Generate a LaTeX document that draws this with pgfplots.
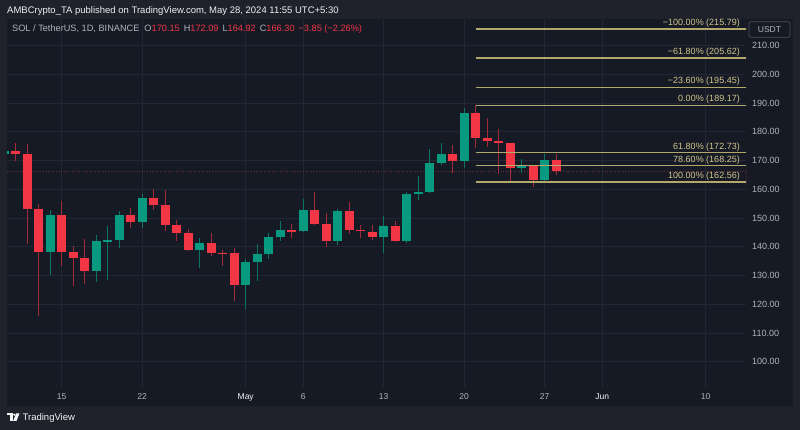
\documentclass[border=0pt]{standalone}
\usepackage{pgfplots}
\pgfplotsset{compat=1.18}
\usepackage{pgfplotstable}
\usepackage{fontspec}
\setmainfont{Liberation Sans}

\definecolor{frame}{HTML}{1F222B}
\definecolor{pane}{HTML}{161A25}
\definecolor{gridc}{HTML}{232733}
\definecolor{txt}{HTML}{B2B5BE}
\definecolor{up}{HTML}{089981}
\definecolor{down}{HTML}{F23645}
\definecolor{upwick}{HTML}{0B7564}
\definecolor{downwick}{HTML}{A02B3B}
\definecolor{fib}{HTML}{B3A86C}
\definecolor{fibtxt}{HTML}{D2C78E}
\definecolor{lastline}{HTML}{7A2834}

% day number counted from 1 April 2024: open high low close
\pgfplotstableread{
d  o      h      l      c
10 172.4  173.6  172.0  173.2
14 138.3  152.8  130.3  151.0
18 131.7  144.1  127.6  141.9
19 141.9  147.2  128.4  142.3
20 142.3  152.4  139.7  151.0
22 148.5  158.3  146.6  156.9
27 139.0  142.9  132.7  141.2
31 126.6  135.7  118.3  134.6
32 134.6  140.9  128.2  137.5
33 137.5  144.9  135.7  143.5
34 143.5  149.0  142.1  145.8
36 145.5  156.6  145.2  152.7
39 142.0  153.1  140.6  152.4
43 143.3  150.6  137.7  147.3
45 141.9  158.9  141.2  158.3
46 158.3  164.6  156.3  159.0
47 159.1  173.9  158.8  169.2
48 169.2  176.0  168.4  172.2
50 169.7  188.2  167.3  186.4
55 167.5  170.5  165.8  168.1
57 163.2  172.2  163.0  170.0
}\upcandles

\pgfplotstableread{
d  o      h      l      c
11 173.2  176.2  170.0  172.3
12 172.2  175.7  141.0  153.1
13 153.1  154.9  115.9  138.3
15 151.0  156.0  133.4  138.3
16 138.3  140.4  126.5  136.0
17 136.0  142.7  126.9  131.7
21 151.0  153.4  146.6  148.5
23 156.9  160.0  152.8  154.5
24 154.5  159.7  145.5  147.6
25 147.6  149.3  142.0  144.7
26 144.7  146.1  138.6  139.0
28 141.2  144.7  136.9  137.7
29 137.9  138.8  133.3  137.6
30 137.7  139.7  121.1  126.6
35 145.8  147.8  143.2  145.5
37 152.7  159.0  147.6  147.8
38 147.8  151.8  140.0  142.0
40 152.4  155.7  144.4  145.9
41 145.9  147.5  143.2  145.6
42 145.2  147.5  142.3  143.3
44 147.3  149.1  141.6  141.9
49 172.2  175.4  165.8  169.7
51 186.4  189.17 174.2  177.9
52 177.9  184.7  174.8  176.8
53 176.8  180.9  165.2  176.0
54 176.0  176.0  162.56 167.5
56 168.1  168.3  160.9  163.2
58 170.15 172.09 164.92 166.30
}\downcandles

\pgfplotsset{
  wick/.style={draw=none, mark=none, forget plot,
    error bars/.cd, y dir=both, y explicit, error mark=none,
    error bar style={solid, line width=1pt, draw=#1}},
  body/.style={draw=none, mark=none, forget plot,
    error bars/.cd, y dir=both, y explicit, error mark=none,
    error bar style={solid, line width=9pt, draw=#1}},
  fibline/.style={fib, line width=1.4pt, forget plot},
}

\begin{document}
\begin{tikzpicture}[x=1pt,y=1pt]
\path[use as bounding box] (0,0) rectangle (800,430);
\fill[frame] (0,0) rectangle (800,430);
\fill[pane] (7,24) rectangle (793,411);

\begin{axis}[
  at={(7pt,43pt)}, anchor=south west,
  scale only axis, width=739pt, height=368pt,
  xmin=10.243, xmax=74.504, ymin=91.22, ymax=219.22,
  axis line style={draw=none}, tick style={draw=none},
  grid=major, major grid style={gridc, line width=0.7pt},
  xtick={15,22,31,36,43,50,57,62,71},
  xticklabels={15,22,\textcolor{white!85!txt}{May},6,13,20,27,\textcolor{white!85!txt}{Jun},10},
  xticklabel style={inner sep=0pt, yshift=-6pt, font=\fontsize{8.5}{10}\selectfont, text=txt},
  ytick={100,110,...,210},
  yticklabel pos=right,
  yticklabel style={inner sep=0pt, xshift=6pt, anchor=west,
    font=\fontsize{9}{10}\selectfont, text=txt,
    /pgf/number format/fixed, /pgf/number format/fixed zerofill,
    /pgf/number format/precision=2, /pgf/number format/assume math mode=true},
]
% last price line
\addplot[lastline, line width=0.8pt, dash pattern=on 1pt off 1.6pt, forget plot]
  coordinates {(10.2,166.30) (74.6,166.30)};

% wicks
\addplot[wick=upwick] table[x=d, y expr={(\thisrow{h}+\thisrow{l})/2},
  y error expr={(\thisrow{h}-\thisrow{l})/2}] \upcandles;
\addplot[wick=downwick] table[x=d, y expr={(\thisrow{h}+\thisrow{l})/2},
  y error expr={(\thisrow{h}-\thisrow{l})/2}] \downcandles;
% bodies
\addplot[body=up] table[x=d, y expr={(\thisrow{o}+\thisrow{c})/2},
  y error expr={max(abs(\thisrow{c}-\thisrow{o})/2,0.2)}] \upcandles;
\addplot[body=down] table[x=d, y expr={(\thisrow{o}+\thisrow{c})/2},
  y error expr={max(abs(\thisrow{c}-\thisrow{o})/2,0.2)}] \downcandles;

% Fibonacci retracement
\addplot[fibline] coordinates {(51,215.79) (74.6,215.79)};
\addplot[fibline] coordinates {(51,205.62) (74.6,205.62)};
\addplot[fibline] coordinates {(51,195.45) (74.6,195.45)};
\addplot[fibline] coordinates {(51,189.17) (74.6,189.17)};
\addplot[fibline] coordinates {(51,172.73) (74.6,172.73)};
\addplot[fibline] coordinates {(51,168.25) (74.6,168.25)};
\addplot[fibline] coordinates {(51,162.56) (74.6,162.56)};

\begin{scope}[every node/.style={anchor=base east, inner sep=0pt, yshift=3.5pt,
    text=fibtxt, font=\fontsize{9}{10}\selectfont}]
\node at (axis cs:73.98,215.79) {−100.00\% (215.79)};
\node at (axis cs:73.98,205.62) {−61.80\% (205.62)};
\node at (axis cs:73.98,195.45) {−23.60\% (195.45)};
\node at (axis cs:73.98,189.17) {0.00\% (189.17)};
\node at (axis cs:73.98,172.73) {61.80\% (172.73)};
\node at (axis cs:73.98,168.25) {78.60\% (168.25)};
\node at (axis cs:73.98,162.56) {100.00\% (162.56)};
\end{scope}

% last price tag
\node[anchor=north west, fill=down, text=white, inner xsep=4pt, inner ysep=1.5pt,
  minimum width=46pt, align=left, font=\fontsize{9}{10}\selectfont, yshift=5pt]
  at (axis cs:74.504,166.30) {166.30\\17:34:50};
\end{axis}

% unit box
\draw[draw=white!20!frame, fill=pane, rounded corners=2pt, line width=0.7pt]
  (749,392.7) rectangle (790,408.3);
\node[text=txt, font=\fontsize{8.5}{10}\selectfont] at (769.5,400.5) {USDT};

% header
\node[anchor=base west, inner sep=0pt, text=white!80!txt, font=\fontsize{9.5}{11}\selectfont]
  at (7,416.5) {AMBCrypto\_TA published on TradingView.com, May 28, 2024 11:55 UTC+5:30};
\node[anchor=base west, inner sep=0pt, text=txt, font=\fontsize{9.2}{11}\selectfont]
  at (12,398.5) {SOL / TetherUS, 1D, BINANCE\hspace{5pt}O\textcolor{down}{170.15}\hspace{4pt}H\textcolor{down}{172.09}\hspace{4pt}L\textcolor{down}{164.92}\hspace{4pt}C\textcolor{down}{166.30}\hspace{4pt}\textcolor{down}{−3.85 (−2.26\%)}};

% footer logo
\fill[white!85!txt] (7,14.5) rectangle (12.5,16.5);
\fill[white!85!txt] (9.5,9) rectangle (12.5,16.5);
\fill[white!85!txt] (14.2,15.3) circle (1.2pt);
\fill[white!85!txt] (16,16.5) -- (19.5,16.5) -- (16.5,9) -- (13.2,9) -- cycle;
\node[anchor=base west, inner sep=0pt, text=white!85!txt, font=\fontsize{9.5}{11}\selectfont]
  at (22.5,9) {TradingView};
\end{tikzpicture}
\end{document}
